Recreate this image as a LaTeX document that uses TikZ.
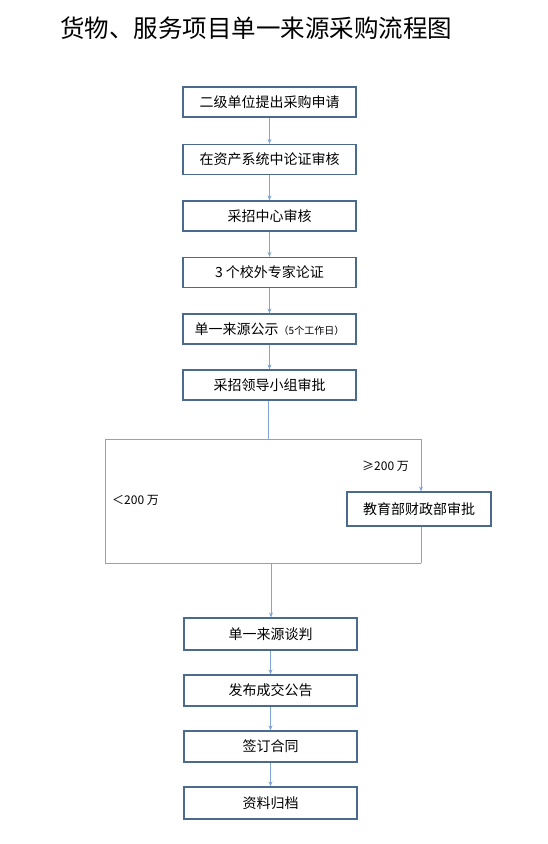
\documentclass[tikz,border=0pt]{standalone}
\usepackage{fontspec}
\setmainfont{Noto Sans CJK SC}
\newfontfamily\cjk{Noto Sans CJK SC}
\usetikzlibrary{arrows.meta,positioning}
\definecolor{boxline}{HTML}{4A6A8E}
\definecolor{arrowline}{HTML}{7FA6D6}
\tikzset{
  stepbox/.style={draw=boxline,line width=1.2pt,minimum width=173pt,minimum height=30pt,inner sep=0pt,font=\fontsize{14}{16}\selectfont},
  flow/.style={draw=arrowline,line width=1pt,-{Stealth[length=5pt,width=4pt]}},
  plain/.style={draw=arrowline,line width=1pt},
  lbl/.style={font=\fontsize{12}{14}\selectfont,inner sep=0pt}
}
\begin{document}
\begin{tikzpicture}[x=1pt,y=-1pt]
\useasboundingbox (0,0) rectangle (547,844);
\node[font=\fontsize{24.5}{28}\selectfont] (title) at (256,28) {货物、服务项目单一来源采购流程图};
\node[stepbox] (b1) at (269.5,102) {二级单位提出采购申请};
\node[stepbox] (b2) at (269.5,159.5) {在资产系统中论证审核};
\node[stepbox] (b3) at (269.5,216) {采招中心审核};
\node[stepbox] (b4) at (269.5,272.5) {3 个校外专家论证};
\node[stepbox] (b5) at (269.5,329) {单一来源公示{\fontsize{10}{11}\selectfont（5个工作日）}};
\node[stepbox] (b6) at (269.5,385) {采招领导小组审批};
\node[stepbox,minimum width=144pt,minimum height=34pt] (b7) at (419,509) {教育部财政部审批};
\node[stepbox,minimum height=32pt] (b8) at (270.5,634) {单一来源谈判};
\node[stepbox,minimum height=31pt] (b9) at (270.5,690.5) {发布成交公告};
\node[stepbox,minimum height=31pt] (b10) at (270.5,746.5) {签订合同};
\node[stepbox,minimum height=32pt] (b11) at (270.5,803) {资料归档};
\coordinate (top) at (268,439);
\coordinate (tl) at (105,439);
\coordinate (tr) at (421,439);
\coordinate (bl) at (105,563);
\coordinate (br) at (421,563);
\coordinate (bm) at (271,563);
\node[lbl,anchor=west] (ge) at (362,466) {≥200 万};
\node[lbl,anchor=west] (lt) at (112,500) {＜200 万};
\draw[flow] (b1) -- (b2);
\draw[flow] (b2) -- (b3);
\draw[flow] (b3) -- (b4);
\draw[flow] (b4) -- (b5);
\draw[flow] (b5) -- (b6);
\draw[plain] (b6.south -| top) -- (top);
\draw[plain] (tl) -- (tr);
\draw[flow] (tr) -- (tr |- b7.north);
\draw[plain] (tl) -- (bl) -- (br);
\draw[plain] (b7.south -| br) -- (br);
\draw[flow] (bm) -- (bm |- b8.north);
\draw[flow] (b8) -- (b9);
\draw[flow] (b9) -- (b10);
\draw[flow] (b10) -- (b11);
\end{tikzpicture}
\end{document}
